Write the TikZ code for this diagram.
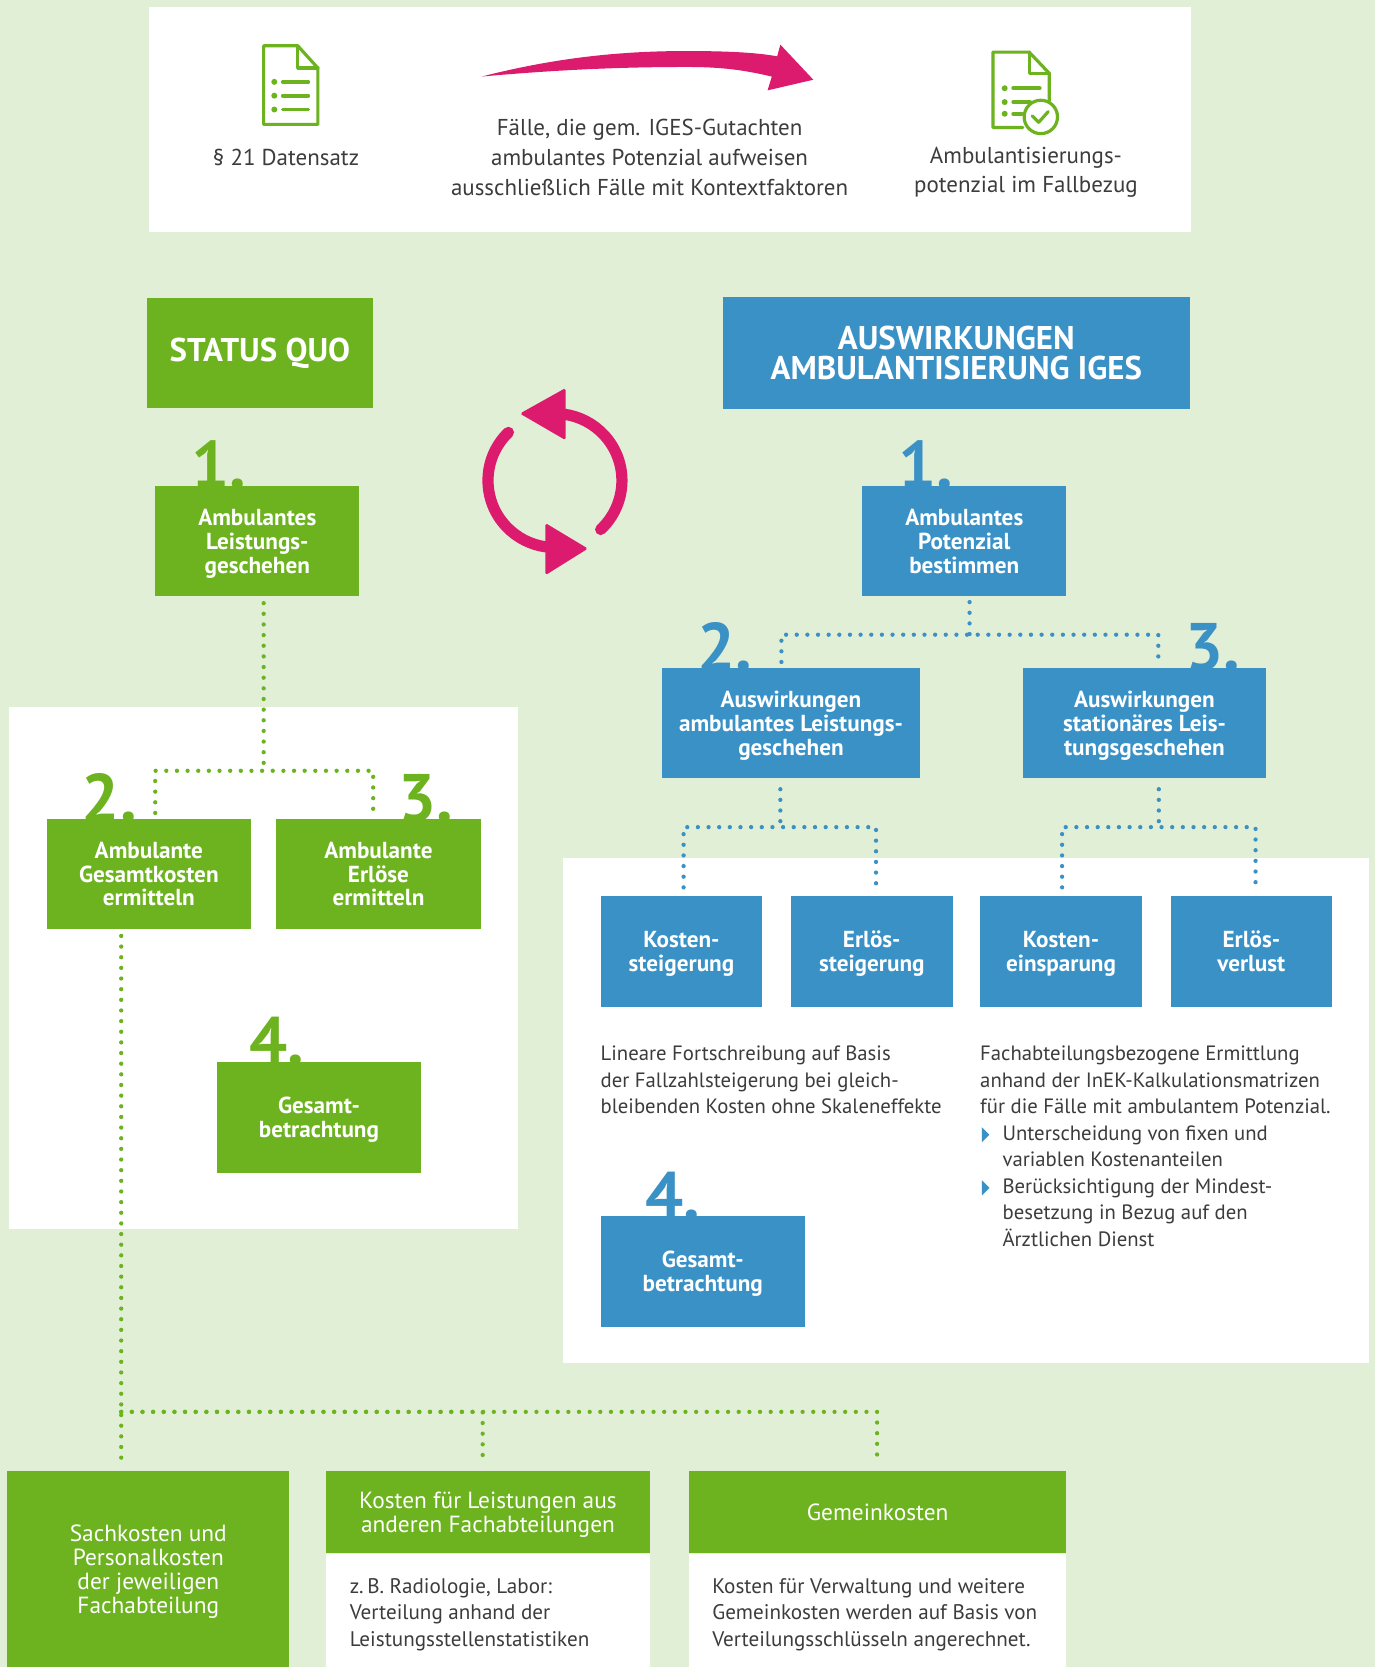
\documentclass[tikz,border=0pt]{standalone}
\usepackage{fontspec}
\setmainfont{PT Sans}
\usetikzlibrary{positioning,calc}

\definecolor{bgGreen}{HTML}{E2EFD7}
\definecolor{boxGreen}{HTML}{6CB31F}
\definecolor{boxBlue}{HTML}{3A91C6}
\definecolor{arrowPink}{HTML}{DC1A6E}
\definecolor{textGray}{HTML}{3C3C3C}

\pgfdeclarelayer{panel}
\pgfdeclarelayer{number}
\pgfsetlayers{panel,number,main}

\begin{document}
\begin{tikzpicture}
[x=0.02cm, y=-0.02cm,
  boxDecorate/.style={shape=rectangle,inner sep=0pt,align=center,text=white,
    minimum width=3.84cm,minimum height=2.08cm,text depth=-1.9pt,
    font=\bfseries\fontsize{12.4pt}{12.8pt}\selectfont},%
  greenBox/.style={boxDecorate,fill=boxGreen},%
  blueBox/.style={boxDecorate,fill=boxBlue},%
  headDecorate/.style={shape=rectangle,inner sep=0pt,align=center,text=white,
    minimum height=2.08cm,font=\bfseries\fontsize{17.6pt}{15.9pt}\selectfont},%
  numDecorate/.style={inner sep=0pt,anchor=base west,
    font=\bfseries\fontsize{36pt}{36pt}\selectfont},%
  dotDecorate/.style={line width=2.3pt,line cap=round,dash pattern=on 0pt off 5.7pt},%
  topDecorate/.style={inner sep=0pt,align=center,text=textGray,
    font=\fontsize{12.3pt}{15.9pt}\selectfont},%
  textDecorate/.style={inner sep=0pt,align=left,text=textGray,anchor=north west,
    font=\fontsize{11.1pt}{14.2pt}\selectfont},%
  footDecorate/.style={shape=rectangle,inner sep=0pt,align=center,text=white,fill=boxGreen,
    text depth=-1.5pt,font=\fontsize{12.5pt}{12.8pt}\selectfont},%
  iconDecorate/.style={draw=boxGreen,line width=1.7pt,line join=round,line cap=round}]

%% background and panels
\begin{pgfonlayer}{panel}
\fill[bgGreen] (0,0) rectangle (1293,1568);
\fill[white] (140,7) rectangle (1120,218);
\fill[white] (8,665) rectangle (487,1156);
\fill[white] (530,807) rectangle (1288,1282);
\end{pgfonlayer}
\useasboundingbox (0,0) rectangle (1293,1568);

%% top row: icons, arrow and texts
\draw[iconDecorate] (248,43) -- (280,43) -- (299,64) -- (299,117) -- (248,117) -- cycle;
\draw[iconDecorate] (280,43) -- (280,64) -- (299,64);
\foreach \y in {77,90,103}
{
  \fill[boxGreen] (258,\y) circle (1.6pt);
  \draw[iconDecorate,line width=2pt] (266,\y) -- (290,\y);
}
\draw[iconDecorate] (962,120) -- (934,120) -- (934,49) -- (968,49) -- (987,69) -- (987,95);
\draw[iconDecorate] (968,49) -- (968,69) -- (987,69);
\foreach \y/\xend in {83/978, 96/969, 107/961}
{
  \fill[boxGreen] (945,\y) circle (1.6pt);
  \draw[iconDecorate,line width=2pt] (953,\y) -- (\xend,\y);
}
\draw[iconDecorate] (979,110) circle (0.314cm);
\draw[iconDecorate] (971,109) -- (977,115) -- (986,105);

\fill[arrowPink] (453,72) .. controls (520,55) and (580,48) .. (646,48)
  .. controls (690,48) and (715,50) .. (731,53) -- (734,42) -- (765,75) -- (722,85)
  -- (726,72) .. controls (700,66) and (680,63) .. (646,63)
  .. controls (580,63) and (520,66) .. (453,72) -- cycle;

\node (srcText) at (269,148) [topDecorate] {§ 21 Datensatz};
\node (filterText) at (611,148) [topDecorate] {Fälle, die gem. IGES-Gutachten\\ambulantes Potenzial aufweisen\\ausschließlich Fälle mit Kontextfaktoren};
\node (resultText) at (965,162) [topDecorate] {Ambulantisierungs-\\potenzial im Fallbezug};

%% headers and cycle
\node (statusQuo) at (244.5,332) [headDecorate,fill=boxGreen,minimum width=4.26cm] {STATUS QUO};
\node (ambIges) at (899.5,332) [headDecorate,fill=boxBlue,minimum width=8.78cm,minimum height=2.12cm] {AUSWIRKUNGEN\\AMBULANTISIERUNG IGES};

\coordinate (cycleCenter) at (522,452);
\draw[arrowPink,line width=6pt,line cap=round] ($(cycleCenter)+(134:1.26cm)$) arc[start angle=134,end angle=262,radius=1.26cm];
\draw[arrowPink,line width=6pt,line cap=round] ($(cycleCenter)+(-47:1.26cm)$) arc[start angle=-47,end angle=82,radius=1.26cm];
\fill[arrowPink,rounded corners=1pt] (513,492) -- (553,516) -- (513,541) -- cycle;
\fill[arrowPink,rounded corners=1pt] (532,365) -- (489,389) -- (532,414) -- cycle;

%% status quo steps
\node (sq1) at (242,509) [greenBox] {Ambulantes\\Leistungs-\\geschehen};
\node (sq2) at (140,822) [greenBox] {Ambulante\\Gesamtkosten\\ermitteln};
\node (sq3) at (356,822) [greenBox] {Ambulante\\Erlöse\\ermitteln};
\node (sq4) at (300,1051) [greenBox] {Gesamt-\\betrachtung};

%% iges steps
\node (ig1) at (907,509) [blueBox] {Ambulantes\\Potenzial\\bestimmen};
\node (ig2) at (744,680) [blueBox,minimum width=4.84cm] {Auswirkungen\\ambulantes Leistungs-\\geschehen};
\node (ig3) at (1076.5,680) [blueBox,minimum width=4.58cm] {Auswirkungen\\stationäres Leis-\\tungsgeschehen};
\foreach \nodename/\x/\txt in {kostSt/641/Kosten-\\steigerung, erlSt/820/Erlös-\\steigerung,
  kostEi/998/Kosten-\\einsparung, erlVe/1177/Erlös-\\verlust}
{
  \node (\nodename) at (\x,895) [blueBox,minimum width=3.04cm] {\txt};
}
\node (ig4) at (661,1196) [blueBox] {Gesamt-\\betrachtung};

%% step numbers behind the boxes
\begin{pgfonlayer}{number}
\foreach \boxname/\num/\dx/\col in {sq1/1/34/boxGreen, sq2/2/33/boxGreen, sq3/3/115/boxGreen,
  sq4/4/31/boxGreen, ig1/1/34/boxBlue, ig2/2/33/boxBlue, ig3/3/153/boxBlue, ig4/4/42/boxBlue}
{
  \node (num\boxname) at ($(\boxname.north west)+(\dx,3)$) [numDecorate,text=\col] {\num.};
}
\end{pgfonlayer}

%% notes
\node (costNote) at ($(kostSt.south west)+(0,36)$) [textDecorate] {Lineare Fortschreibung auf Basis\\der Fallzahlsteigerung bei gleich-\\bleibenden Kosten ohne Skaleneffekte};
\node (deptNote) at ($(kostEi.south west)+(0,36)$) [textDecorate] {Fachabteilungsbezogene Ermittlung\\anhand der InEK-Kalkulationsmatrizen\\für die Fälle mit ambulantem Potenzial.\\\hspace*{0.42cm}Unterscheidung von fixen und\\\hspace*{0.42cm}variablen Kostenanteilen\\\hspace*{0.42cm}Berücksichtigung der Mindest-\\\hspace*{0.42cm}besetzung in Bezug auf den\\\hspace*{0.42cm}Ärztlichen Dienst};
\foreach \y in {84,134}
{
  \fill[boxBlue] ($(deptNote.north west)+(2,\y-7)$) -- ++(7,7) -- ++(-7,7) -- cycle;
}

%% cost types
\node (footOwn) at (139.5,1476) [footDecorate,minimum width=5.3cm,minimum height=3.68cm] {Sachkosten und\\Personalkosten\\der jeweiligen\\Fachabteilung};
\node (footOther) at (459,1422.5) [footDecorate,minimum width=6.08cm,minimum height=1.54cm] {Kosten für Leistungen aus\\anderen Fachabteilungen};
\node (footOtherBody) [below=0pt of footOther,fill=white,inner sep=0pt,minimum width=6.08cm,minimum height=2.14cm] {};
\node (footOtherText) at ($(footOtherBody.north west)+(22,23)$) [textDecorate,font=\fontsize{11.3pt}{14.2pt}\selectfont] {z.\,B. Radiologie, Labor:\\Verteilung anhand der\\Leistungsstellenstatistiken};
\node (footCommon) at (825.5,1422.5) [footDecorate,minimum width=7.1cm,minimum height=1.54cm] {Gemeinkosten};
\node (footCommonBody) [below=0pt of footCommon,fill=white,inner sep=0pt,minimum width=7.1cm,minimum height=2.14cm] {};
\node (footCommonText) at ($(footCommonBody.north west)+(22,23)$) [textDecorate,font=\fontsize{11.3pt}{14.2pt}\selectfont] {Kosten für Verwaltung und weitere\\Gemeinkosten werden auf Basis von\\Verteilungsschlüsseln angerechnet.};

%% dotted connectors
\coordinate (sqJoin) at (248,725);
\draw[dotDecorate,boxGreen] ($(sq1.south)+(6,6)$) -- (sqJoin);
\draw[dotDecorate,boxGreen] ($(sq2.north)+(6,-5)$) |- (sqJoin) -| ($(sq3.north)+(-5,-5)$);
\coordinate (footJoin) at (114,1328);
\draw[dotDecorate,boxGreen] ($(sq2.south)+(-26,6)$) -- ($(footOwn.north)+(-25.5,-9)$);
\draw[dotDecorate,boxGreen] (footJoin) -| ($(footOther.north)+(-5,-9)$);
\draw[dotDecorate,boxGreen] (footJoin) -| ($(footCommon.north)+(-0.5,-9)$);

\coordinate (igJoin) at (912,597);
\draw[dotDecorate,boxBlue] ($(ig1.south)+(5,5)$) -- (igJoin);
\draw[dotDecorate,boxBlue] ($(ig2.north)+(-9,-5)$) |- (igJoin) -| ($(ig3.north)+(13,-5)$);
\coordinate (ambJoin) at (734,778);
\draw[dotDecorate,boxBlue] ($(ig2.south)+(-10,10)$) -- (ambJoin);
\draw[dotDecorate,boxBlue] ($(kostSt.north)+(2,-8)$) |- (ambJoin) -| ($(erlSt.north)+(4,-8)$);
\coordinate (statJoin) at (1090,778);
\draw[dotDecorate,boxBlue] ($(ig3.south)+(13.5,10)$) -- (statJoin);
\draw[dotDecorate,boxBlue] ($(kostEi.north)+(1,-8)$) |- (statJoin) -| ($(erlVe.north)+(4,-8)$);
\end{tikzpicture}
\end{document}
